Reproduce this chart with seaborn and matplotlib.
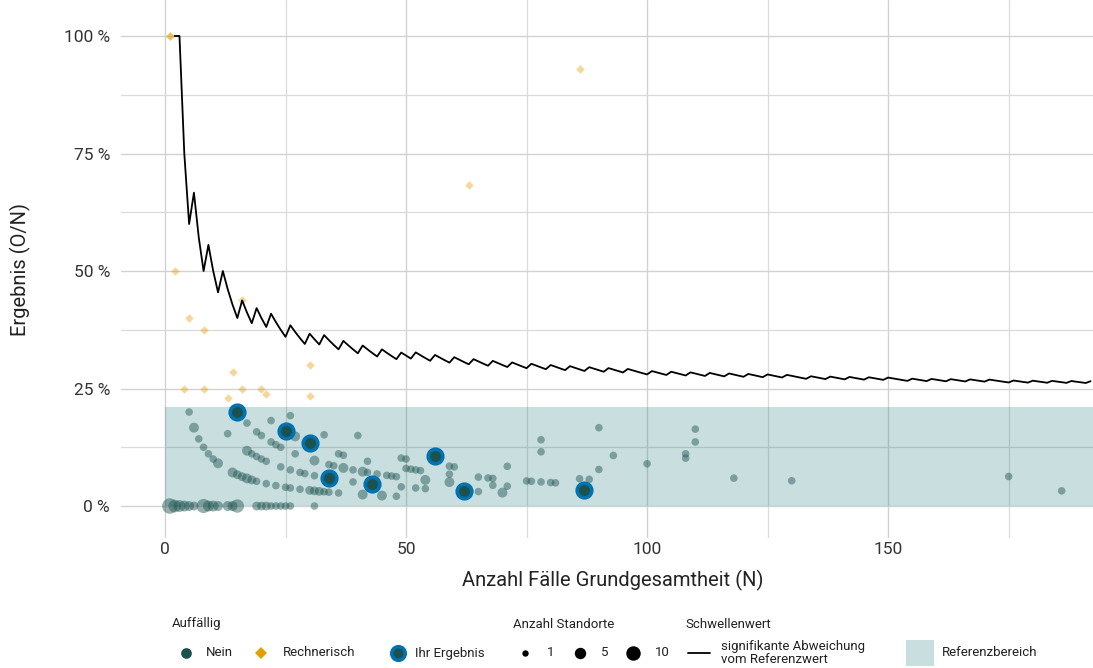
import numpy as np
import pandas as pd
import matplotlib
matplotlib.use("Agg")
import matplotlib.pyplot as plt
import seaborn as sns
from matplotlib.lines import Line2D
from matplotlib.patches import Rectangle

# ---------------- data ----------------
# "Nein" points: N (Fälle), O (Ereignisse), Anzahl Standorte
nein_n = [1, 2, 3, 4, 5, 6, 8, 9, 10, 11, 13, 14, 15, 19, 20, 21, 22, 23, 24, 25, 26, 31,
          5, 6, 7, 8, 9, 10, 11, 14, 15, 16, 17, 18, 19, 21, 23, 25, 26, 28, 30, 31, 32, 33, 34, 36, 41, 45, 48,
          13, 17, 18, 19, 20, 21, 24, 26, 28, 29, 31, 39, 49, 52, 54, 65, 70,
          17, 19, 20, 22, 23, 24, 27, 31, 34, 35, 37, 39, 41, 42, 44, 46, 47, 48, 54, 59, 68, 71,
          22, 27, 36, 37, 42, 50, 51, 52, 53, 59, 65, 67, 68, 75, 76, 78, 80, 81,
          26, 33, 49, 50, 59, 60, 86, 88,
          40, 71, 186,
          90, 118, 130,
          78, 100,
          93,
          78, 108, 175,
          108,
          90, 110,
          110]
nein_o = [0, 0, 0, 0, 0, 0, 0, 0, 0, 0, 0, 0, 0, 0, 0, 0, 0, 0, 0, 0, 0, 0,
          1, 1, 1, 1, 1, 1, 1, 1, 1, 1, 1, 1, 1, 1, 1, 1, 1, 1, 1, 1, 1, 1, 1, 1, 1, 1, 1,
          2, 2, 2, 2, 2, 2, 2, 2, 2, 2, 2, 2, 2, 2, 2, 2, 2,
          3, 3, 3, 3, 3, 3, 3, 3, 3, 3, 3, 3, 3, 3, 3, 3, 3, 3, 3, 3, 3, 3,
          4, 4, 4, 4, 4, 4, 4, 4, 4, 4, 4, 4, 4, 4, 4, 4, 4, 4,
          5, 5, 5, 5, 5, 5, 5, 5,
          6, 6, 6,
          7, 7, 7,
          9, 9,
          10,
          11, 11, 11,
          12,
          15, 15,
          18]
nein_size = [10, 6, 5, 4, 3, 2, 8, 4, 4, 3, 3, 3, 7, 2, 2, 2, 1, 1, 1, 1, 1, 1,
             1, 3, 1, 1, 1, 1, 3, 3, 2, 2, 3, 2, 1, 1, 1, 1, 1, 1, 2, 2, 2, 1, 1, 1, 3, 3, 1,
             1, 3, 1, 1, 1, 1, 1, 1, 1, 1, 1, 1, 1, 1, 1, 1, 3,
             1, 1, 1, 1, 1, 1, 1, 3, 1, 1, 3, 1, 3, 1, 1, 1, 1, 1, 3, 3, 1, 1,
             1, 3, 1, 1, 1, 1, 1, 1, 1, 1, 1, 1, 1, 1, 1, 1, 1, 1,
             1, 1, 1, 1, 1, 1, 1, 1,
             1, 1, 1,
             1, 1, 1,
             1, 1,
             1,
             1, 1, 1,
             1,
             1, 1,
             1]

# "Ihr Ergebnis" points
ihr_n = [15, 25, 30, 34, 43, 56, 62, 87]
ihr_o = [3, 4, 4, 2, 2, 6, 2, 3]

# "Rechnerisch" auffällige points
rech_n = [1, 1, 2, 4, 5, 8, 8, 13, 14, 16, 16, 20, 21, 30, 30, 63, 86]
rech_o = [1, 1, 1, 1, 2, 3, 2, 3, 4, 7, 4, 5, 5, 9, 7, 43, 80]

# Schwellenwert: critical count k for N = 2 ... 192
thr_k = [2,
         3, 3, 3, 4, 4, 4, 5, 5, 5, 6, 6, 6, 6, 7, 7, 7, 8, 8, 8,
         9, 9, 9, 9, 10, 10, 10, 10, 11, 11, 11, 12, 12, 12, 12,
         13, 13, 13, 13, 14, 14, 14, 14, 15, 15, 15, 15, 16, 16, 16,
         17, 17, 17, 17, 18, 18, 18, 18, 19, 19, 19, 19, 20, 20, 20, 20,
         21, 21, 21, 21, 22, 22, 22, 22, 23, 23, 23, 23, 24, 24, 24, 24,
         25, 25, 25, 25, 26, 26, 26, 26, 27, 27, 27, 27, 28, 28, 28, 28, 28,
         29, 29, 29, 29, 30, 30, 30, 30, 31, 31, 31, 31, 32, 32, 32, 32,
         33, 33, 33, 33, 34, 34, 34, 34, 35, 35, 35, 35, 36, 36, 36, 36, 36,
         37, 37, 37, 37, 38, 38, 38, 38, 39, 39, 39, 39, 40, 40, 40, 40,
         41, 41, 41, 41, 41, 42, 42, 42, 42, 43, 43, 43, 43, 44, 44, 44, 44,
         45, 45, 45, 45, 46, 46, 46, 46, 46, 47, 47, 47, 47, 48, 48, 48, 48,
         49, 49, 49, 49, 50, 50, 50, 50, 51]
thr_n = list(range(2, 2 + len(thr_k)))

ref_upper = 21.0  # Referenzbereich <= 21 %

x_ticks = [0, 50, 100, 150]
y_ticks = [0, 25, 50, 75, 100]
y_tick_labels = ["0 %", "25 %", "50 %", "75 %", "100 %"]

# ---------------- styling ----------------
DARK = "#1b524d"
BLUE = "#0072B2"
ORANGE = "#E69F00"
BAND = "#2a7d80"
TXT = "#222222"

sns.set_theme(style="white")
plt.rcParams["font.family"] = ["Roboto", "DejaVu Sans"]

df_nein = pd.DataFrame({"N": nein_n, "O": nein_o, "size": nein_size})
df_nein["pct"] = 100 * df_nein["O"] / df_nein["N"]
df_ihr = pd.DataFrame({"N": ihr_n, "O": ihr_o})
df_ihr["pct"] = 100 * df_ihr["O"] / df_ihr["N"]
df_rech = pd.DataFrame({"N": rech_n, "O": rech_o})
df_rech["pct"] = 100 * df_rech["O"] / df_rech["N"]
df_thr = pd.DataFrame({"N": thr_n, "k": thr_k})
df_thr["pct"] = 100 * df_thr["k"] / df_thr["N"]

W, H = 1093, 668
fig = plt.figure(figsize=(W / 100, H / 100), dpi=100)
ax_left, ax_bottom_px = 121, 538
ax = fig.add_axes([ax_left / W, 1 - ax_bottom_px / H, 1 - ax_left / W, ax_bottom_px / H])

xlim = (-9.13, 192.5)
ylim = (-6.8, 107.66)
ax.set_xlim(*xlim)
ax.set_ylim(*ylim)

# grid
ax.set_axisbelow(True)
ax.set_xticks(x_ticks)
ax.set_xticks([25, 75, 125, 175], minor=True)
ax.set_yticks(y_ticks)
ax.set_yticks([12.5, 37.5, 62.5, 87.5], minor=True)
ax.set_yticklabels(y_tick_labels)
ax.grid(which="major", color="#d2d2d2", linewidth=1.0)
ax.grid(which="minor", color="#dadada", linewidth=0.9)
for s in ax.spines.values():
    s.set_visible(False)
ax.tick_params(which="both", length=0)
ax.tick_params(axis="x", pad=3, labelsize=12.5, labelcolor="#333333")
ax.tick_params(axis="y", pad=8, labelsize=12.5, labelcolor="#333333")

# reference band
ax.fill_between([0, xlim[1]], 0, ref_upper, color=BAND, alpha=0.25, linewidth=0, zorder=1)

# points
sns.scatterplot(data=df_nein, x="N", y="pct", size="size", sizes=(30, 125), size_norm=(1, 10),
                color=DARK, alpha=0.45, linewidth=0, legend=False, ax=ax, zorder=3)
sns.scatterplot(data=df_rech, x="N", y="pct", marker="D", s=19, color=ORANGE, alpha=0.4,
                linewidth=0, legend=False, ax=ax, zorder=3)
sns.scatterplot(data=df_ihr, x="N", y="pct", s=110, color=DARK, edgecolor=BLUE, linewidth=2.6,
                legend=False, ax=ax, zorder=4)

# threshold line
sns.lineplot(data=df_thr, x="N", y="pct", color="black", linewidth=1.3, estimator=None,
             sort=False, ax=ax, zorder=5)

ax.set_xlabel("Anzahl Fälle Grundgesamtheit (N)", fontsize=14.5, color=TXT)
ax.set_ylabel("Ergebnis (O/N)", fontsize=14.5, color=TXT)
ax.xaxis.set_label_coords((613 - ax_left) / (W - ax_left), -(580 - ax_bottom_px) / ax_bottom_px)
ax.xaxis.label.set_va("center")
ax.yaxis.set_label_coords(-(ax_left - 20) / (W - ax_left), 1 - 269 / ax_bottom_px)
ax.yaxis.label.set_va("center")

# ---------------- legend (manual) ----------------
def fx(px):
    return px / W

def fy(py):
    return 1 - py / H

def mark(px, py, **kw):
    fig.add_artist(Line2D([fx(px)], [fy(py)], transform=fig.transFigure, linestyle="none", **kw))

def label(px, py, s, size=9.5):
    fig.text(fx(px), fy(py), s, fontsize=size, color=TXT, ha="left", va="center")

ly_t, ly = 624, 653
label(172, ly_t, "Auffällig")
mark(186, ly, marker="o", ms=7.7, color=DARK, mew=0)
label(206, ly, "Nein")
mark(261, ly, marker="D", ms=6.0, color=ORANGE, mew=0)
label(283, ly, "Rechnerisch")
mark(398, ly, marker="o", ms=9.8, mfc=DARK, mec=BLUE, mew=2.5)
label(415, ly, "Ihr Ergebnis")

label(513, ly_t, "Anzahl Standorte")
mark(525, ly, marker="o", ms=4.6, color="black", mew=0)
label(547, ly, "1")
mark(580, ly, marker="o", ms=8.2, color="black", mew=0)
label(601, ly, "5")
mark(633, ly, marker="o", ms=10.4, color="black", mew=0)
label(655, ly, "10")

label(685, ly_t, "Schwellenwert")
fig.add_artist(Line2D([fx(688), fx(710)], [fy(ly), fy(ly)], transform=fig.transFigure,
                      color="black", linewidth=1.3))
fig.text(fx(721), fy(ly), "signifikante Abweichung\nvom Referenzwert", fontsize=9.5,
         color=TXT, ha="left", va="center", linespacing=1.0)

fig.add_artist(Rectangle((fx(906), fy(666)), fx(934) - fx(906), fy(640) - fy(666),
                         transform=fig.transFigure, facecolor=BAND, alpha=0.25, linewidth=0))
label(942, ly, "Referenzbereich")

fig.savefig("out.png", dpi=100)
